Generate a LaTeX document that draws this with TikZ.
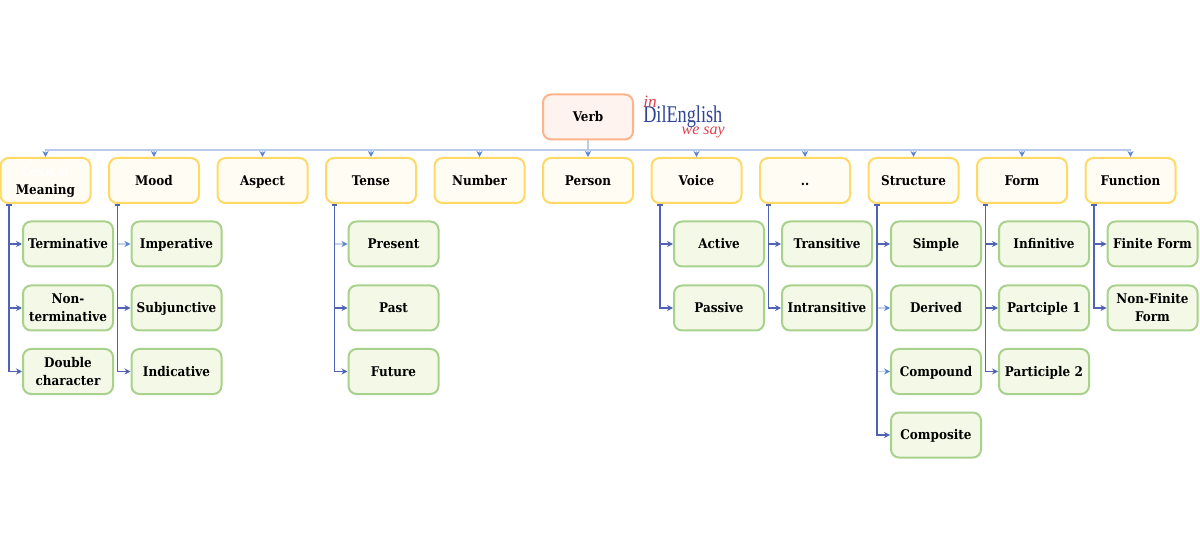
\documentclass[tikz,border=0pt]{standalone}
\usepackage{fontspec}
\setmainfont{DejaVu Serif Condensed}
\newfontfamily\logofont[FakeStretch=0.76]{Liberation Serif}
\newfontfamily\logoscript{Liberation Serif}
\usetikzlibrary{arrows.meta,calc}
\definecolor{rootfill}{HTML}{FFF3EF}
\definecolor{rootline}{HTML}{FFB38A}
\definecolor{catfill}{HTML}{FFFCF3}
\definecolor{catline}{HTML}{FFD966}
\definecolor{leaffill}{HTML}{F3F9E6}
\definecolor{leafline}{HTML}{A9D18E}
\definecolor{linkdark}{HTML}{4F62B4}
\definecolor{linklight}{HTML}{C5D4EE}
\definecolor{topline}{HTML}{B9CBEA}
\definecolor{toptip}{HTML}{5B84D0}
\definecolor{logoblue}{HTML}{2F4594}
\definecolor{logored}{HTML}{E0404E}
\newcommand{\boxstrut}{\rule[-2.4pt]{0pt}{11.85pt}}
\tikzset{
  x=0.75pt,y=-0.75pt,
  basebox/.style={rounded corners=6pt,line width=1.5pt,minimum width=67.5pt,minimum height=33.75pt,align=center,inner sep=0pt,text width=66pt,font=\fontsize{10}{13.5}\selectfont\bfseries,text=black,execute at begin node=\boxstrut,execute at end node=\boxstrut},
  rootbox/.style={basebox,draw=rootline,fill=rootfill},
  catbox/.style={basebox,draw=catline,fill=catfill},
  leafbox/.style={basebox,draw=leafline,fill=leaffill},
  toplink/.style={draw=topline,line width=1.2pt,-{Stealth[length=4.5pt,width=4.5pt,color=toptip]}},
  darklink/.style={draw=linkdark,line width=1.2pt,{Bar[width=4pt,line width=1.2pt,sep=0pt]}-{Stealth[length=4.5pt,width=4.5pt]}},
  lightlink/.style={draw=linklight,line width=1.2pt,-{Stealth[length=4.5pt,width=4.5pt,color=toptip]}},
}
\begin{document}
\begin{tikzpicture}
\useasboundingbox (0,0) rectangle (1200,552);
\node[rootbox] (verb) at (588,117) {Verb};
\node[catbox] (c1) at (45.5,180.5) {\textcolor{white}{Lexical}\\Meaning};
\node[catbox] (c2) at (154,180.5) {Mood};
\node[catbox] (c3) at (262.5,180.5) {Aspect};
\node[catbox] (c4) at (371,180.5) {Tense};
\node[catbox] (c5) at (479.5,180.5) {Number};
\node[catbox] (c6) at (588,180.5) {Person};
\node[catbox] (c7) at (696.5,180.5) {Voice};
\node[catbox] (c8) at (805,180.5) {..};
\node[catbox] (c9) at (913.5,180.5) {Structure};
\node[catbox] (c10) at (1022,180.5) {Form};
\node[catbox] (c11) at (1130.5,180.5) {Function};
% logo
\node[inner sep=0pt,font=\logofont\fontsize{18}{18}\selectfont,text=logoblue,anchor=west] (logo) at (643,117) {DilEnglish};
\node[inner sep=0pt,font=\logoscript\itshape\fontsize{13}{13}\selectfont,text=logored,anchor=west] (logoa) at (643,102) {in};
\node[inner sep=0pt,font=\logoscript\itshape\fontsize{12}{12}\selectfont,text=logored,anchor=east] (logob) at (725,132) {we say};
% leaves
\newcommand{\leaf}[4]{\node[leafbox] (#1) at (#2,#3) {#4};}
\leaf{a1}{68}{244}{Terminative}
\leaf{a2}{68}{308}{Non-\\terminative}
\leaf{a3}{68}{371.5}{Double\\character}
\leaf{b1}{176.5}{244}{Imperative}
\leaf{b2}{176.5}{308}{Subjunctive}
\leaf{b3}{176.5}{371.5}{Indicative}
\leaf{d1}{393.5}{244}{Present}
\leaf{d2}{393.5}{308}{Past}
\leaf{d3}{393.5}{371.5}{Future}
\leaf{g1}{719}{244}{Active}
\leaf{g2}{719}{308}{Passive}
\leaf{h1}{827}{244}{Transitive}
\leaf{h2}{827}{308}{Intransitive}
\leaf{i1}{936}{244}{Simple}
\leaf{i2}{936}{308}{Derived}
\leaf{i3}{936}{371.5}{Compound}
\leaf{i4}{936}{435}{Composite}
\leaf{j1}{1044}{244}{Infinitive}
\leaf{j2}{1044}{308}{Partciple 1}
\leaf{j3}{1044}{371.5}{Participle 2}
\leaf{k1}{1152.5}{244}{Finite Form}
\leaf{k2}{1152.5}{308}{Non-Finite\\Form}
% connectors from root
\coordinate (bus) at ($(verb.south)+(0,9.5)$);
\foreach \n in {c1,c2,c3,c4,c5,c6,c7,c8,c9,c10,c11}{
  \draw[toplink] (verb.south) -- (bus) -| (\n.north);
}
% child connectors
\foreach \c/\ch/\st in {c1/a1/darklink,c1/a2/darklink,c1/a3/darklink,
  c2/b1/lightlink,c2/b2/darklink,c2/b3/darklink,
  c4/d1/lightlink,c4/d2/darklink,c4/d3/darklink,
  c7/g1/darklink,c7/g2/darklink,
  c8/h1/darklink,c8/h2/darklink,
  c9/i2/lightlink,c9/i3/lightlink,c9/i1/darklink,c9/i4/darklink,
  c10/j1/darklink,c10/j2/darklink,c10/j3/darklink,
  c11/k1/darklink,c11/k2/darklink}{
  \coordinate (st\ch) at ($(\c.south west)+(9.5,0)$);
  \draw[\st] (st\ch) |- (\ch.west);
}
\end{tikzpicture}
\end{document}
